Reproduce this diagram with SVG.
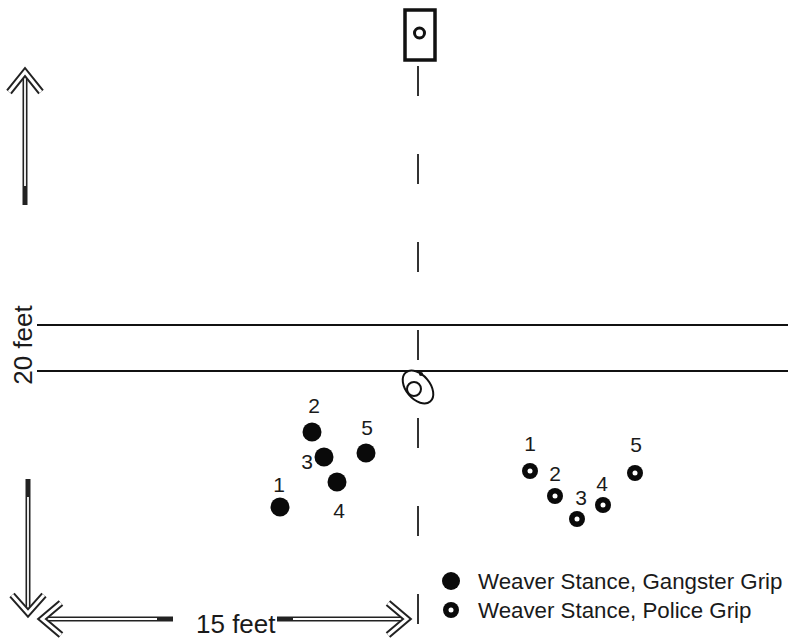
<svg xmlns="http://www.w3.org/2000/svg" width="788" height="643" viewBox="0 0 788 643">
  <style>
    .lbl { font-family: "Liberation Sans", Arial, sans-serif; fill: #1a1a1a; }
    .num { font-size: 21px; text-anchor: middle; }
    .dim { font-size: 26px; }
    .leg { font-size: 22.3px; }
    .line { stroke: #111; stroke-width: 2; fill: none; }
    .dash { stroke: #333; stroke-width: 2; fill: none; stroke-dasharray: 30 58; }
    .hollow-out { stroke: #222; stroke-width: 5; fill: none; stroke-linejoin: miter; }
    .hollow-in { stroke: #fff; stroke-width: 1.8; fill: none; stroke-linejoin: miter; }
    .head-out { stroke: #222; stroke-width: 7; fill: none; stroke-linejoin: miter; stroke-miterlimit: 10; }
    .head-in { stroke: #fff; stroke-width: 3; fill: none; stroke-linejoin: miter; stroke-miterlimit: 10; }
    .gang { fill: #0a0a0a; }
    .police { fill: #0a0a0a; }
    .hole { fill: #fff; }
  </style>

  <rect width="788" height="643" fill="#fff"/>

  <!-- range lines and centre line -->
  <g id="connectors">
    <line class="dash" x1="418" y1="66" x2="418" y2="640"/>
    <line class="line" x1="37" y1="325" x2="788" y2="325"/>
    <line class="line" x1="37" y1="371" x2="788" y2="371"/>
  </g>

  <!-- target stand -->
  <g id="target">
    <rect x="405" y="10" width="30" height="50" fill="#fff" stroke="#111" stroke-width="3.5"/>
    <circle cx="419.5" cy="33" r="5" fill="none" stroke="#111" stroke-width="3"/>
  </g>

  <!-- shooter position on the line -->
  <g id="shooter">
    <ellipse cx="418" cy="387" rx="19" ry="12" transform="rotate(50 418 387)" fill="#fff" stroke="#111" stroke-width="2"/>
    <circle cx="414" cy="389" r="7" fill="none" stroke="#111" stroke-width="2"/>
    <circle cx="421" cy="374" r="2" fill="#111"/>
  </g>

  <!-- up arrow -->
  <g id="arrow-up">
    <line class="hollow-out" x1="25" y1="76" x2="25" y2="205"/>
    <line class="hollow-in" x1="25" y1="76" x2="25" y2="186"/>
    <polyline class="head-out" points="9,92 25,72 41,92"/>
    <polyline class="head-in" points="9,92 25,72 41,92"/>
  </g>

  <!-- down arrow -->
  <g id="arrow-down">
    <line class="hollow-out" x1="28" y1="479" x2="28" y2="608"/>
    <line class="hollow-in" x1="28" y1="497" x2="28" y2="608"/>
    <polyline class="head-out" points="12,595 28,613 44,595"/>
    <polyline class="head-in" points="12,595 28,613 44,595"/>
  </g>

  <!-- left arrow -->
  <g id="arrow-left">
    <line class="hollow-out" x1="44" y1="619" x2="173" y2="619"/>
    <line class="hollow-in" x1="44" y1="619" x2="157" y2="619"/>
    <polyline class="head-out" points="61,603 42,619 61,635"/>
    <polyline class="head-in" points="61,603 42,619 61,635"/>
  </g>

  <!-- right arrow -->
  <g id="arrow-right">
    <line class="hollow-out" x1="277" y1="619" x2="404" y2="619"/>
    <line class="hollow-in" x1="293" y1="619" x2="404" y2="619"/>
    <polyline class="head-out" points="388,603 407,619 388,635"/>
    <polyline class="head-in" points="388,603 407,619 388,635"/>
  </g>

  <!-- dimension labels -->
  <g id="dim-labels">
    <text class="lbl dim" x="196" y="633">15 feet</text>
    <text class="lbl dim" transform="translate(32,345) rotate(-90)" text-anchor="middle">20 feet</text>
  </g>

  <!-- gangster grip hits -->
  <g id="gangster-hits">
    <circle class="gang" cx="280" cy="507" r="9.5"/>
    <circle class="gang" cx="312" cy="432" r="9.5"/>
    <circle class="gang" cx="324" cy="457" r="9.5"/>
    <circle class="gang" cx="337" cy="482" r="9.5"/>
    <circle class="gang" cx="366" cy="453" r="9.5"/>
    <text class="lbl num" x="279" y="492">1</text>
    <text class="lbl num" x="314" y="413">2</text>
    <text class="lbl num" x="307" y="469">3</text>
    <text class="lbl num" x="339" y="518">4</text>
    <text class="lbl num" x="367" y="435">5</text>
  </g>

  <!-- police grip hits -->
  <g id="police-hits">
    <circle class="police" cx="530" cy="471" r="8"/>
    <circle class="hole" cx="530" cy="471" r="2.5"/>
    <circle class="police" cx="555" cy="496" r="8"/>
    <circle class="hole" cx="555" cy="496" r="2.5"/>
    <circle class="police" cx="577" cy="519" r="8"/>
    <circle class="hole" cx="577" cy="519" r="2.5"/>
    <circle class="police" cx="603" cy="505" r="8"/>
    <circle class="hole" cx="603" cy="505" r="2.5"/>
    <circle class="police" cx="635" cy="473" r="8"/>
    <circle class="hole" cx="635" cy="473" r="2.5"/>
    <text class="lbl num" x="530" y="451">1</text>
    <text class="lbl num" x="555" y="481">2</text>
    <text class="lbl num" x="581" y="505">3</text>
    <text class="lbl num" x="602" y="491">4</text>
    <text class="lbl num" x="636" y="452">5</text>
  </g>

  <!-- legend -->
  <g id="legend">
    <circle class="gang" cx="451" cy="581" r="9"/>
    <text class="lbl leg" x="478" y="589">Weaver Stance, Gangster Grip</text>
    <circle class="police" cx="451" cy="610" r="8"/>
    <circle class="hole" cx="451" cy="610" r="2.5"/>
    <text class="lbl leg" x="478" y="618">Weaver Stance, Police Grip</text>
  </g>
</svg>
